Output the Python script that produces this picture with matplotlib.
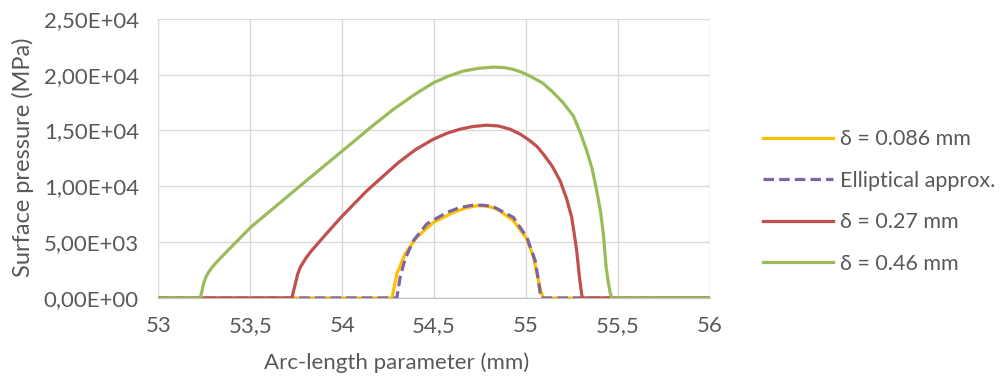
import matplotlib.pyplot as plt

plt.rcParams['font.family'] = ['Lato', 'DejaVu Sans']

# delta = 0.086 mm
x1 = [53.0, 54.27, 54.283, 54.297, 54.342, 54.405, 54.496, 54.605, 54.67, 54.732, 54.79, 54.841,
      54.931, 55.004, 55.04, 55.067, 55.082, 55.094, 56.0]
y1 = [0, 0, 1000, 2160, 3950, 5430, 6770, 7660, 8050, 8260, 8220, 7970,
      6920, 5290, 3640, 1560, 500, 0, 0]

# elliptical approximation
x2 = [53.0, 54.297, 54.315, 54.342, 54.387, 54.46, 54.569, 54.64, 54.714, 54.77, 54.822,
      54.931, 55.004, 55.049, 55.067, 55.08, 56.0]
y2 = [0, 0, 1860, 3500, 5130, 6630, 7660, 8100, 8320, 8300, 8170,
      7210, 5430, 3350, 1560, 0, 0]

# delta = 0.27 mm
x3 = [53.0, 53.727, 53.735, 53.745, 53.757, 53.772, 53.8, 53.826, 53.9, 53.998,
      54.134, 54.306, 54.4, 54.496, 54.57, 54.64, 54.71, 54.786, 54.85, 54.913,
      54.97, 55.022, 55.06, 55.094, 55.14, 55.185, 55.22, 55.248, 55.262, 55.275,
      55.29, 55.303, 55.31, 56.0]
y3 = [0, 0, 600, 1270, 2100, 2750, 3500, 4090, 5500, 7300,
      9600, 12130, 13300, 14220, 14750, 15110, 15350, 15470, 15400, 15110,
      14650, 14060, 13550, 12870, 11850, 10490, 8900, 7210, 5700, 4240,
      1860, 220, 0, 0]

# delta = 0.46 mm
x4 = [53.0, 53.228, 53.237, 53.246, 53.258, 53.273, 53.295, 53.319, 53.39, 53.5,
      53.627, 53.754, 53.9, 54.04, 54.16, 54.279, 54.39, 54.496, 54.58, 54.66,
      54.74, 54.822, 54.88, 54.93, 54.975, 55.02, 55.09, 55.149, 55.2, 55.257,
      55.295, 55.33, 55.36, 55.384, 55.405, 55.42, 55.435, 55.448, 55.458, 55.466, 56.0]
y4 = [0, 0, 600, 1270, 1850, 2300, 2800, 3250, 4450, 6300,
      8050, 9800, 11800, 13700, 15350, 16900, 18180, 19270, 19880, 20320,
      20560, 20670, 20630, 20470, 20220, 19870, 19250, 18380, 17500, 16300,
      14800, 13170, 11500, 9600, 7700, 5730, 2750, 1270, 400, 0, 0]

labels = ['δ = 0.086 mm', 'Elliptical approx.', 'δ = 0.27 mm', 'δ = 0.46 mm']
xticks = [53, 53.5, 54, 54.5, 55, 55.5, 56]
xticklabels = ['53', '53,5', '54', '54,5', '55', '55,5', '56']
yticks = [0, 5000, 10000, 15000, 20000, 25000]
yticklabels = ['0,00E+00', '5,00E+03', '1,00E+04', '1,50E+04', '2,00E+04', '2,50E+04']

txt = '#595959'
fig = plt.figure(figsize=(10.02, 3.83), dpi=100)
ax = fig.add_axes([0.158, 0.222, 0.5506, 0.729])

ax.plot(x1, y1, color='#FFC000', lw=2.3, label=labels[0], solid_joinstyle='round')
ax.plot(x2, y2, color='#8064A2', lw=2.3, ls=(0, (3.3, 1.6)), label=labels[1])
ax.plot(x3, y3, color='#C0504D', lw=2.3, label=labels[2], solid_joinstyle='round')
ax.plot(x4, y4, color='#9BBB59', lw=2.3, label=labels[3], solid_joinstyle='round')

ax.set_xlim(53, 56)
ax.set_ylim(0, 25000)
ax.set_xticks(xticks)
ax.set_xticklabels(xticklabels)
ax.set_yticks(yticks)
ax.set_yticklabels(yticklabels)
ax.grid(True, color='#D9D9D9', lw=1)
ax.set_axisbelow(True)
for s in ['top', 'right', 'left']:
    ax.spines[s].set_visible(False)
ax.spines['bottom'].set_color('#BFBFBF')
ax.tick_params(axis='x', length=0, labelsize=16, colors=txt, pad=13)
ax.tick_params(axis='y', length=0, labelsize=16, colors=txt, pad=14)

fig.text(0.396, 0.052, 'Arc-length parameter (mm)', fontsize=16, color=txt,
         ha='center', va='center')
fig.text(0.023, 0.589, 'Surface pressure (MPa)', fontsize=17, color=txt,
         ha='center', va='center', rotation=90)

fig.legend(loc='center left', bbox_to_anchor=(0.7615, 0.474), frameon=False,
           fontsize=15.5, labelcolor=txt, handlelength=3.25, handletextpad=0.33,
           labelspacing=1.0, borderpad=0, borderaxespad=0)

fig.savefig('out.png', dpi=100)
